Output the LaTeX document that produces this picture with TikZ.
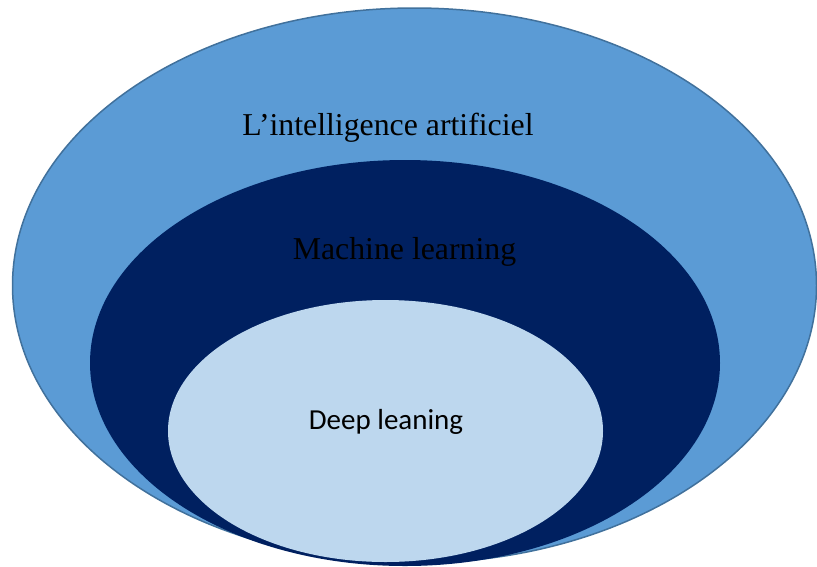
\documentclass[tikz,border=0pt]{standalone}
\usepackage{fontspec}
\setmainfont{Liberation Serif}
\newfontfamily\calibrifont{Carlito}
\usetikzlibrary{shapes.geometric}
\definecolor{outerfill}{HTML}{5B9BD5}
\definecolor{outerline}{HTML}{41719C}
\definecolor{midfill}{HTML}{002060}
\definecolor{innerfill}{HTML}{BDD7EE}
\tikzset{
  blob/.style={ellipse, inner sep=0pt, outer sep=0pt},
  serlabel/.style={anchor=base, inner sep=0pt, font=\fontsize{31.8}{36}\selectfont},
  callabel/.style={anchor=base, inner sep=0pt, font=\calibrifont\fontsize{29}{33}\selectfont}
}
\begin{document}
\begin{tikzpicture}[x=1pt,y=-1pt]
\useasboundingbox (0,0) rectangle (817,566);
\node[blob, fill=outerfill, draw=outerline, line width=1.5pt, minimum width=804pt, minimum height=555pt] (ia) at (414.5,285.5) {};
\node[blob, fill=midfill, minimum width=630pt, minimum height=406pt] (ml) at (405,363) {};
\node[blob, fill=innerfill, minimum width=435pt, minimum height=262pt] (dl) at (385.5,431) {};
\node[serlabel] (tia) at (388,135) {L’intelligence artificiel};
\node[serlabel] (tml) at (404.5,259) {Machine learning};
\node[callabel] (tdl) at (386,429) {Deep leaning};
\end{tikzpicture}
\end{document}
